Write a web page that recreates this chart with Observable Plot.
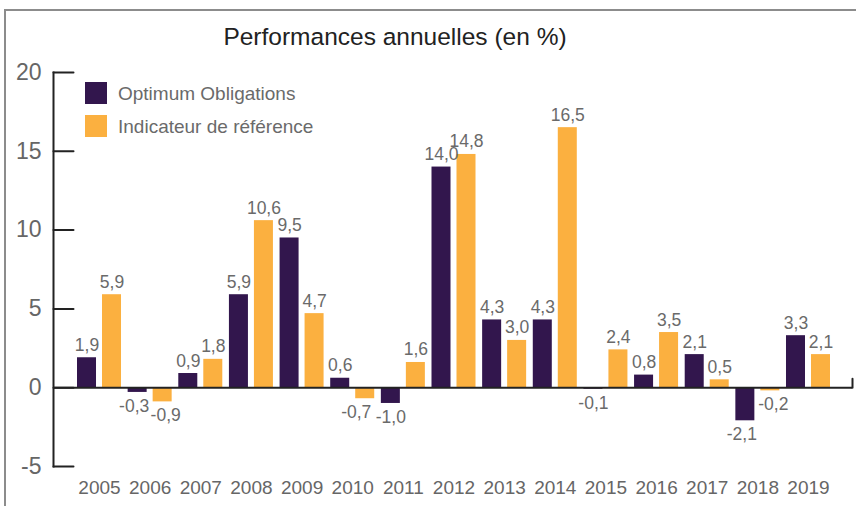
<!DOCTYPE html>
<html>
<head>
<meta charset="utf-8">
<script src="https://cdn.jsdelivr.net/npm/d3@7"></script>
<script src="https://cdn.jsdelivr.net/npm/@observablehq/plot@0.6"></script>
<style>
  html, body { margin: 0; padding: 0; background: #fff; }
  #wrap { position: relative; width: 856px; height: 506px; overflow: hidden; font-family: "Liberation Sans", Arial, sans-serif; }
  #border { position: absolute; left: 4px; top: 9px; width: 900px; height: 600px; border-left: 2px solid #8c8c8c; border-top: 2px solid #8c8c8c; }
  #title { position: absolute; left: 0; width: 790px; top: 25px; text-align: center; font-size: 24.5px; line-height: 1; color: #222; }
  .leg { position: absolute; left: 85px; display: flex; align-items: center; font-size: 19px; color: #6a6a6a; line-height: 1; }
  .sw { width: 22px; height: 22px; margin-right: 11px; }
  #chart { position: absolute; left: 0; top: 0; }
</style>
</head>
<body>
<div id="wrap">
  <div id="border"></div>
  <div id="chart"></div>
  <div id="title">Performances annuelles (en %)</div>
  <div id="legend"></div>
</div>
<script>
const years = ["2005","2006","2007","2008","2009","2010","2011","2012","2013","2014","2015","2016","2017","2018","2019"];
const optimum = [1.9, -0.3, 0.9, 5.9, 9.5, 0.6, -1.0, 14.0, 4.3, 4.3, -0.1, 0.8, 2.1, -2.1, 3.3];
const indicateur = [5.9, -0.9, 1.8, 10.6, 4.7, -0.7, 1.6, 14.8, 3.0, 16.5, 2.4, 3.5, 0.5, -0.2, 2.1];
const seriesNames = ["Optimum Obligations", "Indicateur de référence"];
const colors = ["#32164d", "#fbb040"];
const yTicks = [-5, 0, 5, 10, 15, 20];

const fmt = v => v.toFixed(1).replace(".", ",");
// spread negative labels apart when neighbouring bars are also negative
const dataA = years.map((y, i) => ({year: y, value: optimum[i], nudge: (optimum[i] < 0 && indicateur[i] < 0) ? -3.5 : 0}));
const dataB = years.map((y, i) => ({year: y, value: indicateur[i],
  nudge: indicateur[i] < 0 ? (optimum[i] < 0 ? 3 : (i + 1 < years.length && optimum[i + 1] < 0 ? -9 : 0)) : 0}));

const tickShape = { draw(context, l) { context.moveTo(0, 0); context.lineTo(0, -l); } };
const labelStyle = {fontSize: 17.5, fill: "#6a6a6a", fontFamily: "Liberation Sans, Arial, sans-serif"};

function labels(data, dx) {
  return [
    Plot.text(data.filter(d => d.value >= 0), {x: "year", y: "value", text: d => fmt(d.value), dx, dy: -7, lineAnchor: "bottom", ...labelStyle}),
    ...data.filter(d => d.value < 0).map(d =>
      Plot.text([d], {x: "year", y: "value", text: d => fmt(d.value), dx: dx + d.nudge, dy: 7, lineAnchor: "top", ...labelStyle}))
  ];
}

const chart = Plot.plot({
  width: 856,
  height: 506,
  marginLeft: 53,
  marginRight: 4,
  marginTop: 72,
  marginBottom: 40,
  style: {fontFamily: "Liberation Sans, Arial, sans-serif", background: "transparent"},
  x: {domain: years, range: [77, 830], paddingInner: 0.131, paddingOuter: 0, round: false, label: null},
  y: {domain: [-5, 20], ticks: yTicks, label: null},
  marks: [
    Plot.barY(dataA, {x: "year", y: "value", fill: colors[0], insetRight: 25}),
    Plot.barY(dataB, {x: "year", y: "value", fill: colors[1], insetLeft: 25}),
    ...labels(dataA, -12.5),
    ...labels(dataB, 12.5),
    Plot.ruleY([0], {stroke: "#222", strokeWidth: 2}),
    Plot.vector([0], {y: d => d, frameAnchor: "right", length: 9, rotate: 0, anchor: "start", shape: tickShape, stroke: "#222", strokeWidth: 2}),
    Plot.frame({anchor: "left", stroke: "#222", strokeWidth: 2}),
    Plot.vector(yTicks, {y: d => d, frameAnchor: "left", length: 20, rotate: 90, anchor: "start", shape: tickShape, stroke: "#222", strokeWidth: 2}),
    Plot.axisY(yTicks, {tickSize: 0, tickPadding: 12, fontSize: 23, color: "#666", tickFormat: d => String(d)}),
    Plot.axisX({tickSize: 0, tickPadding: 14, fontSize: 19, color: "#666"})
  ]
});
document.getElementById("chart").appendChild(chart);

const legend = document.getElementById("legend");
const tops = [82, 115];
seriesNames.forEach((name, i) => {
  const row = document.createElement("div");
  row.className = "leg";
  row.style.top = tops[i] + "px";
  const sw = document.createElement("div");
  sw.className = "sw";
  sw.style.background = colors[i];
  const tx = document.createElement("span");
  tx.textContent = name;
  row.appendChild(sw);
  row.appendChild(tx);
  legend.appendChild(row);
});
</script>
</body>
</html>
